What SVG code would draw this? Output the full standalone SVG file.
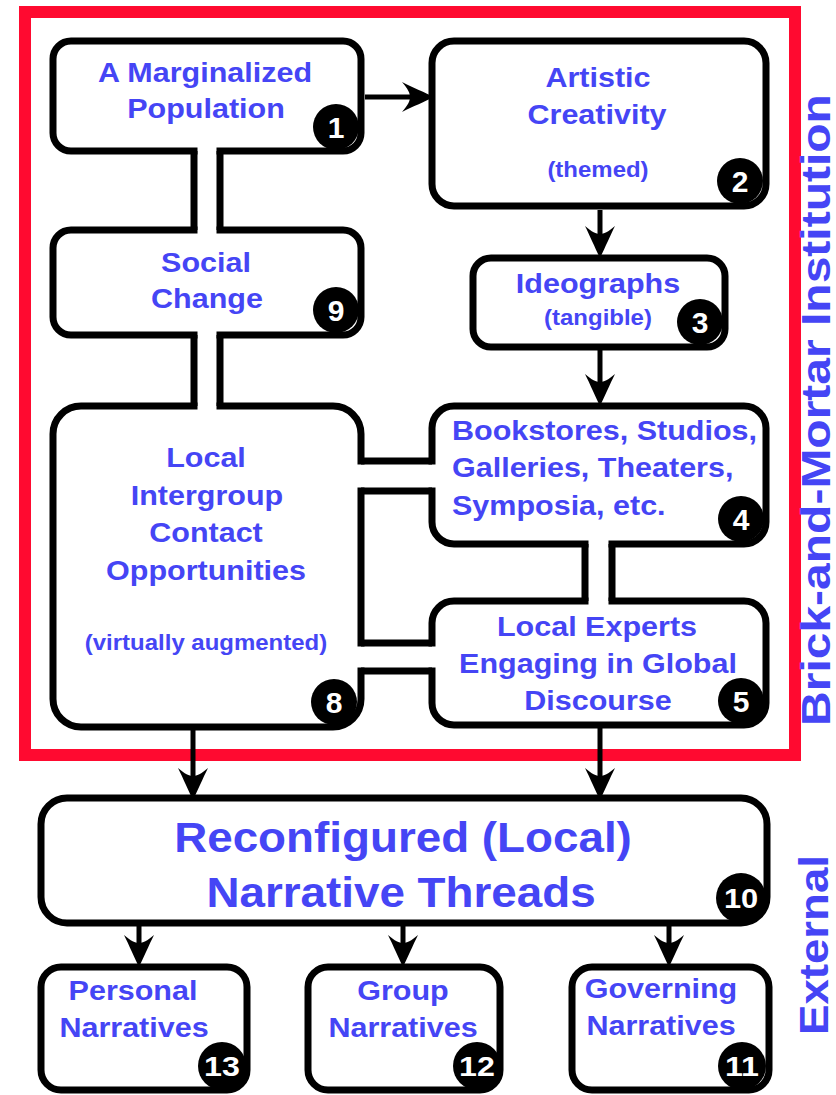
<svg xmlns="http://www.w3.org/2000/svg" width="836" height="1095" viewBox="0 0 836 1095">
<style>
.box{fill:#fff;stroke:#000;stroke-width:7}
.pipe{fill:#fff;stroke:none}
.pl{stroke:#000;stroke-width:7;fill:none}
.arr{stroke:#000;stroke-width:5;fill:none;marker-end:url(#ah)}
.t{font-family:"Liberation Sans",Arial,sans-serif;font-weight:bold;fill:#4545f5;text-anchor:middle}
.m{font-size:28px}
.s{font-size:22px}
.l{font-size:42px}
.v{font-size:40px}
.n{font-family:"Liberation Sans",Arial,sans-serif;font-weight:bold;fill:#fff;text-anchor:middle;font-size:30px}
.c{fill:#000}
</style>
<defs>
<marker id="ah" markerUnits="userSpaceOnUse" markerWidth="36" markerHeight="32" refX="10" refY="16" orient="auto" overflow="visible">
<path d="M34,16 C26,12 12,6 2,1 C8,8 10,12 10,16 C10,20 8,24 2,31 C12,26 26,20 34,16 Z" fill="#000"/>
</marker>
</defs>
<rect x="0" y="0" width="836" height="1095" fill="#fff"/>
<rect x="25" y="12" width="770" height="743" fill="none" stroke="#ff0a30" stroke-width="12"/>

<g id="node1">
<rect class="box" x="53" y="41" width="308" height="110" rx="18"/>
<text class="t m" transform="translate(205 82) scale(1.09 1)">A Marginalized</text>
<text class="t m" transform="translate(206 118) scale(1.09 1)">Population</text>
<circle class="c" cx="336" cy="127" r="23"/>
<text class="n" x="336" y="138">1</text>
</g>
<g id="node2">
<rect class="box" x="432" y="41" width="334" height="165" rx="22"/>
<text class="t m" transform="translate(598 87) scale(1.09 1)">Artistic</text>
<text class="t m" transform="translate(597 124) scale(1.09 1)">Creativity</text>
<text class="t s" transform="translate(598 177) scale(1.09 1)">(themed)</text>
<circle class="c" cx="740" cy="181" r="23"/>
<text class="n" x="740" y="192">2</text>
</g>
<g id="node3">
<rect class="box" x="473" y="258" width="252" height="89" rx="18"/>
<text class="t m" transform="translate(598 293) scale(1.09 1)">Ideographs</text>
<text class="t s" transform="translate(598 325) scale(1.09 1)">(tangible)</text>
<circle class="c" cx="700" cy="322" r="23"/>
<text class="n" x="700" y="333">3</text>
</g>
<g id="node9">
<rect class="box" x="53" y="230" width="308" height="105" rx="18"/>
<text class="t m" transform="translate(206 272) scale(1.09 1)">Social</text>
<text class="t m" transform="translate(207 308) scale(1.09 1)">Change</text>
<circle class="c" cx="336" cy="310" r="23"/>
<text class="n" x="336" y="321">9</text>
</g>
<g id="node8">
<rect class="box" x="53" y="406" width="308" height="321" rx="28"/>
<text class="t m" transform="translate(206 467) scale(1.09 1)">Local</text>
<text class="t m" transform="translate(207 505) scale(1.09 1)">Intergroup</text>
<text class="t m" transform="translate(206 542) scale(1.09 1)">Contact</text>
<text class="t m" transform="translate(206 580) scale(1.09 1)">Opportunities</text>
<text class="t s" transform="translate(206 650) scale(1.09 1)">(virtually augmented)</text>
<circle class="c" cx="334" cy="702" r="23"/>
<text class="n" x="334" y="713">8</text>
</g>
<g id="node4">
<rect class="box" x="432" y="406" width="334" height="138" rx="22"/>
<text class="t m" style="text-anchor:start" transform="translate(452 440) scale(1.09 1)">Bookstores, Studios,</text>
<text class="t m" style="text-anchor:start" transform="translate(452 477) scale(1.09 1)">Galleries, Theaters,</text>
<text class="t m" style="text-anchor:start" transform="translate(452 515) scale(1.09 1)">Symposia, etc.</text>
<circle class="c" cx="741" cy="519" r="23"/>
<text class="n" x="741" y="530">4</text>
</g>
<g id="node5">
<rect class="box" x="432" y="601" width="334" height="124" rx="22"/>
<text class="t m" transform="translate(597 636) scale(1.09 1)">Local Experts</text>
<text class="t m" transform="translate(598 673) scale(1.09 1)">Engaging in Global</text>
<text class="t m" transform="translate(598 710) scale(1.09 1)">Discourse</text>
<circle class="c" cx="741" cy="701" r="23"/>
<text class="n" x="741" y="712">5</text>
</g>
<g id="node10">
<rect class="box" x="41" y="798" width="726" height="125" rx="26"/>
<text class="t l" transform="translate(403 852) scale(1.09 1)">Reconfigured (Local)</text>
<text class="t l" transform="translate(401 907) scale(1.09 1)">Narrative Threads</text>
<circle class="c" cx="741" cy="898" r="25"/>
<text class="n" style="font-size:28px" transform="translate(741 908) scale(1.1 1)">10</text>
</g>
<g id="node13">
<rect class="box" x="41" y="967" width="206" height="123" rx="20"/>
<text class="t m" transform="translate(133 1000) scale(1.09 1)">Personal</text>
<text class="t m" transform="translate(134 1037) scale(1.09 1)">Narratives</text>
<circle class="c" cx="222" cy="1066" r="24"/>
<text class="n" style="font-size:28px" transform="translate(222 1076) scale(1.15 1)">13</text>
</g>
<g id="node12">
<rect class="box" x="308" y="967" width="192" height="123" rx="20"/>
<text class="t m" transform="translate(403 1000) scale(1.09 1)">Group</text>
<text class="t m" transform="translate(403 1037) scale(1.09 1)">Narratives</text>
<circle class="c" cx="477" cy="1066" r="24"/>
<text class="n" style="font-size:28px" transform="translate(477 1076) scale(1.15 1)">12</text>
</g>
<g id="node11">
<rect class="box" x="572" y="967" width="197" height="123" rx="20"/>
<text class="t m" transform="translate(661 998) scale(1.09 1)">Governing</text>
<text class="t m" transform="translate(661 1035) scale(1.09 1)">Narratives</text>
<circle class="c" cx="742" cy="1066" r="24"/>
<text class="n" style="font-size:28px" transform="translate(742 1076) scale(1.15 1)">11</text>
</g>

<g id="connectors">
<rect class="pipe" x="197.5" y="146" width="19" height="89"/>
<path class="pl" d="M194,151 V230 M220,151 V230"/>
<rect class="pipe" x="197.5" y="330" width="19" height="81"/>
<path class="pl" d="M194,335 V406 M220,335 V406"/>
<rect class="pipe" x="356" y="464.5" width="81" height="23"/>
<path class="pl" d="M361,461 H432 M361,491 H432"/>
<rect class="pipe" x="356" y="646.5" width="81" height="21"/>
<path class="pl" d="M361,643 H432 M361,671 H432"/>
<rect class="pipe" x="588.5" y="539" width="20" height="67"/>
<path class="pl" d="M585,544 V601 M612,544 V601"/>
<path class="arr" d="M365,97 H410"/>
<path class="arr" d="M600,210 V234"/>
<path class="arr" d="M600,350 V382"/>
<path class="arr" d="M193,730 V776"/>
<path class="arr" d="M600,728 V776"/>
<path class="arr" d="M139,926 V943"/>
<path class="arr" d="M403,926 V943"/>
<path class="arr" d="M669,926 V943"/>
</g>

<text class="t v" transform="translate(830 410) rotate(-90) scale(1.2 1)">Brick-and-Mortar Institution</text>
<text class="t v" transform="translate(828 945) rotate(-90) scale(1.14 1)">External</text>
</svg>
